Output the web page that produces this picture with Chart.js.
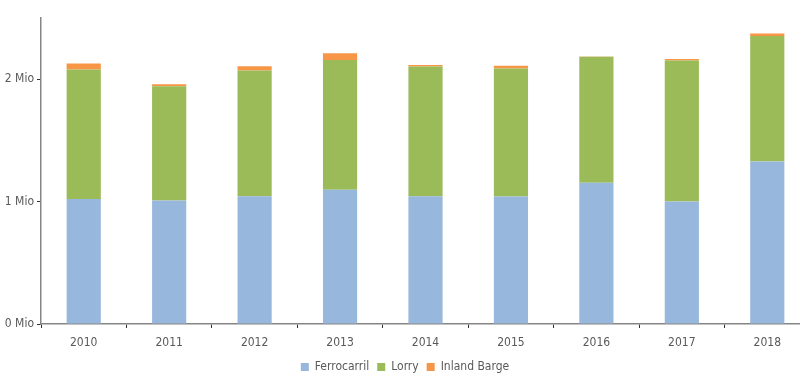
<!DOCTYPE html>
<html>
<head>
<meta charset="utf-8">
<script src="https://cdn.jsdelivr.net/npm/chart.js@4/dist/chart.umd.min.js"></script>
<style>
    html, body { margin: 0; padding: 0; background: #fff; overflow: hidden; }
    #wrap { width: 824px; height: 388px; }
</style>
</head>
<body>
<div id="wrap"><canvas id="freightChart" width="824" height="388"></canvas></div>
<script>
const years = ['2010', '2011', '2012', '2013', '2014', '2015', '2016', '2017', '2018'];
// values in millions
const ferrocarril = [1.022, 1.008, 1.043, 1.096, 1.043, 1.041, 1.153, 1.000, 1.328];
const lorry = [1.058, 0.935, 1.028, 1.060, 1.061, 1.047, 1.030, 1.153, 1.024];
const inlandBarge = [0.049, 0.016, 0.035, 0.055, 0.013, 0.021, 0.003, 0.013, 0.022];
const yTicks = [0, 1, 2];

const FONT = '"Liberation Sans Narrow", "DejaVu Sans Condensed", "Roboto", sans-serif';
const axisGrey = '#868686';
const textGrey = '#595959';

const makeSet = (label, data, color) => ({
    label,
    data,
    backgroundColor: color,
    borderWidth: 0,
    barPercentage: 0.4,
    categoryPercentage: 1
});

new Chart(document.getElementById('freightChart'), {
    type: 'bar',
    data: {
        labels: years,
        datasets: [
            makeSet('Ferrocarril', ferrocarril, '#98b7dc'),
            makeSet('Lorry', lorry, '#9bbb59'),
            makeSet('Inland Barge', inlandBarge, '#f79646')
        ]
    },
    options: {
        responsive: false,
        animation: false,
        layout: { padding: { top: 18, right: 14, bottom: 5, left: 0 } },
        scales: {
            x: {
                stacked: true,
                border: { color: axisGrey, width: 1.5 },
                grid: {
                    offset: true,
                    drawOnChartArea: false,
                    color: '#333',
                    tickLength: 4
                },
                ticks: {
                    color: textGrey,
                    font: { family: FONT, size: 12 },
                    padding: 8
                },
                afterFit: (scale) => { scale.height = 29; }
            },
            y: {
                stacked: true,
                min: 0,
                max: 2.5,
                border: { color: axisGrey, width: 1.5 },
                grid: {
                    drawOnChartArea: false,
                    color: '#333',
                    tickLength: 4
                },
                afterBuildTicks: (scale) => {
                    scale.ticks = yTicks.map(v => ({ value: v }));
                },
                ticks: {
                    color: textGrey,
                    font: { family: FONT, size: 12 },
                    padding: 3,
                    callback: (v) => v + ' Mio'
                },
                afterFit: (scale) => { scale.width = 41; }
            }
        },
        plugins: {
            legend: {
                position: 'bottom',
                labels: {
                    color: textGrey,
                    font: { family: FONT, size: 12 },
                    boxWidth: 8,
                    boxHeight: 8,
                    padding: 8
                }
            },
            tooltip: { enabled: false }
        }
    }
});
</script>
</body>
</html>
